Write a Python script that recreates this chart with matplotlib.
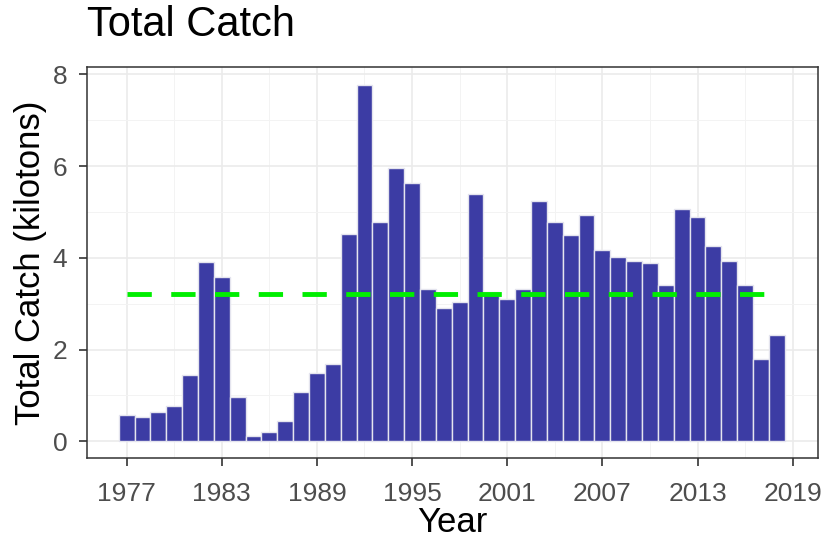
import numpy as np
import matplotlib.pyplot as plt
from matplotlib.ticker import MultipleLocator, FixedLocator

years = np.arange(1977, 2019)
catch = [0.58, 0.52, 0.64, 0.76, 1.44, 3.90, 3.59, 0.97, 0.12, 0.20,
         0.44, 1.08, 1.49, 1.68, 4.51, 7.77, 4.79, 5.95, 5.63, 3.32,
         2.90, 3.03, 5.39, 3.25, 3.10, 3.32, 5.24, 4.79, 4.50, 4.93,
         4.17, 4.02, 3.93, 3.88, 3.41, 5.06, 4.88, 4.26, 3.93, 3.41,
         1.79, 2.31]
xticks = [1977, 1983, 1989, 1995, 2001, 2007, 2013, 2019]
yticks = [0, 2, 4, 6, 8]

plt.rcParams['font.family'] = ['Liberation Sans', 'DejaVu Sans']

fig = plt.figure(figsize=(8.28, 5.41), dpi=100)
ax = fig.add_axes([0.105, 0.153, 0.883, 0.723])

ax.bar(years, catch, width=1.0, color='#3c3ca4', edgecolor='#e4e4ee', linewidth=1.0, zorder=3)
mean_c = np.mean(catch)
ax.plot(years, np.full(len(years), mean_c), color='#00ee00', linestyle=(0, (5, 4)), linewidth=3.5, zorder=4)

ax.set_xlim(1974.5, 2020.6)
ax.set_ylim(-0.37, 8.16)
ax.xaxis.set_major_locator(FixedLocator(xticks))
ax.xaxis.set_minor_locator(FixedLocator([x + 3 for x in xticks[:-1]] + [1974]))
ax.yaxis.set_major_locator(FixedLocator(yticks))
ax.yaxis.set_minor_locator(MultipleLocator(1))
ax.grid(which='major', color='#ebebeb', linewidth=1.2, zorder=0)
ax.grid(which='minor', color='#f3f3f3', linewidth=0.7, zorder=0)
ax.tick_params(which='minor', length=0)
ax.tick_params(which='major', length=6, width=1.2, color='#333333', labelsize=19,
               labelcolor='#4d4d4d')
ax.tick_params(axis='x', pad=11)
ax.tick_params(axis='y', pad=8)
for s in ax.spines.values():
    s.set_color('#333333')
    s.set_linewidth(1.1)

ax.set_xlabel('Year', fontsize=25, labelpad=0)
ax.set_ylabel('Total Catch (kilotons)', fontsize=25, labelpad=4)
fig.text(0.105, 0.99, 'Total Catch', fontsize=30, ha='left', va='top')

fig.savefig('out.png', dpi=100)
